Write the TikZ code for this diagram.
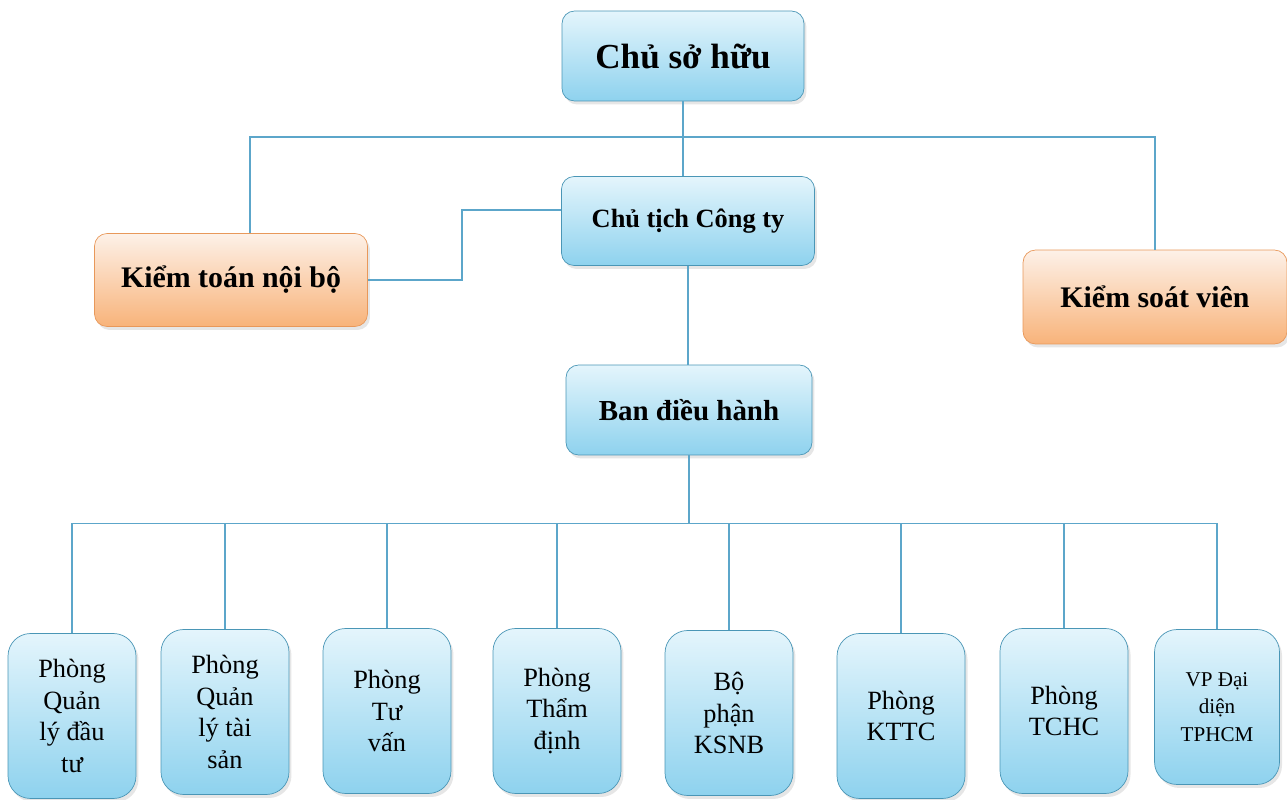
\documentclass[tikz,border=0pt]{standalone}
\usepackage{fontspec}
\setmainfont{Liberation Serif}
\usetikzlibrary{shadows}
\definecolor{boxtop}{HTML}{E4F5FC}
\definecolor{boxbot}{HTML}{8ED2EE}
\definecolor{boxline}{HTML}{4A96B6}
\definecolor{kttop}{HTML}{FDF1E8}
\definecolor{ktbot}{HTML}{F8B37A}
\definecolor{ktline}{HTML}{E8985A}
\definecolor{linkblue}{HTML}{5CA6CA}
\tikzset{
	bluebox/.style={draw=boxline, rounded corners=0.25cm, top color=boxtop, bottom color=boxbot, align=center,
		drop shadow={opacity=0.2, shadow xshift=0.05cm, shadow yshift=-0.07cm}},
	orangebox/.style={bluebox, draw=ktline, top color=kttop, bottom color=ktbot},
	unitbox/.style={bluebox, rounded corners=0.45cm, minimum width=2.56cm, minimum height=3.3cm, font=\fontsize{15}{18}\selectfont},
	link/.style={draw=linkblue, line width=0.8pt}
}
\begin{document}
\begin{tikzpicture}[x=0.02cm,y=-0.02cm]
	\useasboundingbox (0,0) rectangle (1287,800);
	
	\node[bluebox, minimum width=4.84cm, minimum height=1.8cm, font=\bfseries\fontsize{20}{24}\selectfont] (owner) at (683,56) {Chủ sở hữu};
	\node[bluebox, minimum width=5.06cm, minimum height=1.78cm, font=\bfseries\fontsize{15}{18}\selectfont] (chair) at (688,221) {Chủ tịch Công ty};
	\node[orangebox, minimum width=5.46cm, minimum height=1.86cm, font=\bfseries\fontsize{17}{20}\selectfont] (audit) at (231,280) {Kiểm toán nội bộ};
	\node[orangebox, minimum width=5.28cm, minimum height=1.88cm, font=\bfseries\fontsize{17}{20}\selectfont] (control) at (1155,297) {Kiểm soát viên};
	\node[bluebox, minimum width=4.92cm, minimum height=1.8cm, font=\bfseries\fontsize{16.5}{20}\selectfont] (board) at (689,410) {Ban điều hành};
	
	\node[unitbox] (u1) at (72,716) {Phòng\\Quản\\lý đầu\\tư};
	\node[unitbox] (u2) at (225,712) {Phòng\\Quản\\lý tài\\sản};
	\node[unitbox] (u3) at (387,711) {Phòng\\Tư\\vấn};
	\node[unitbox] (u4) at (557,711) {Phòng\\Thẩm\\định};
	\node[unitbox] (u5) at (729,713) {Bộ\\phận\\KSNB};
	\node[unitbox] (u6) at (901,716) {Phòng\\KTTC};
	\node[unitbox] (u7) at (1064,711) {Phòng\\TCHC};
	\node[unitbox, minimum width=2.5cm, minimum height=3.1cm, font=\fontsize{12}{15.5}\selectfont] (u8) at (1217,707) {VP Đại\\diện\\TPHCM};
	
	\draw[link] (owner.south) -- (owner.south |- chair.north);
	\draw[link] ([xshift=0.38cm]audit.north) -- ++(0,-96) -| (control.north);
	\draw[link] ([yshift=0.22cm]chair.west) -- ++(-99,0) |- (audit.east);
	\draw[link] (chair.south) -- (chair.south |- board.north);
	\draw[link] (board.south) -- ++(0,68) coordinate (hub);
	\draw[link] (u1.north |- hub) -- (u8.north |- hub);
	\foreach \i in {1,...,8}{
		\draw[link] (u\i.north |- hub) -- (u\i.north);
	}
\end{tikzpicture}
\end{document}
